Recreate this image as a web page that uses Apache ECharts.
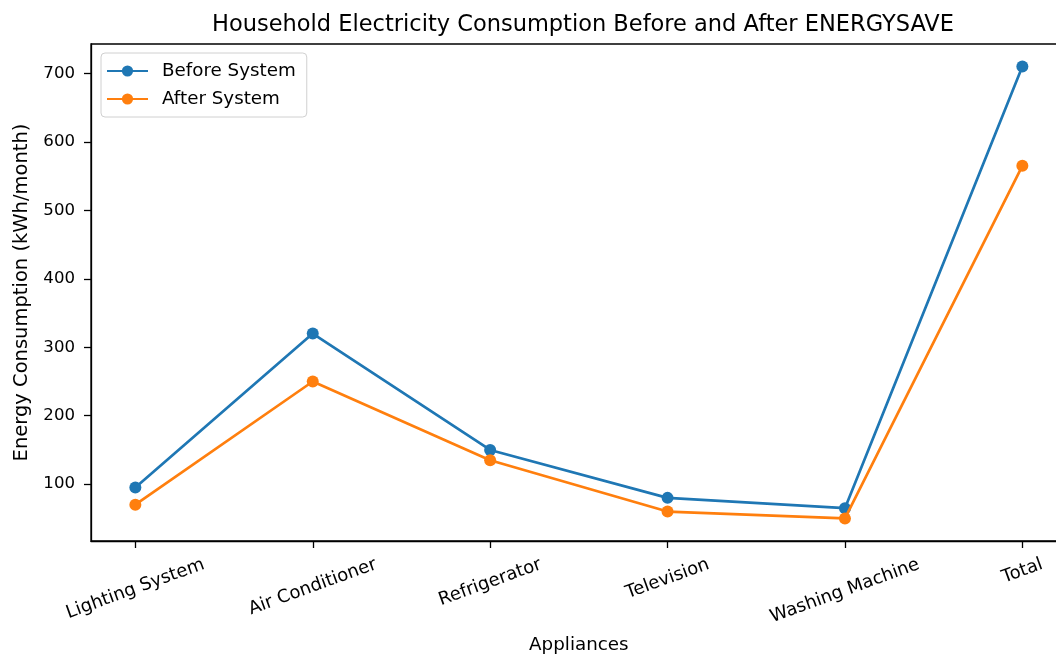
<!DOCTYPE html>
<html>
<head>
<meta charset="utf-8">
<title>Household Electricity Consumption</title>
<script src="https://cdn.jsdelivr.net/npm/echarts@6/dist/echarts.min.js"></script>
<style>
  html, body { margin: 0; padding: 0; background: #ffffff; }
  #chart { width: 1056px; height: 654px; }
</style>
</head>
<body>
<div id="chart"></div>
<script>
// Appliance categories and monthly consumption (kWh/month)
const appliances = ['Lighting System', 'Air Conditioner', 'Refrigerator', 'Television', 'Washing Machine', 'Total'];
const beforeSystem = [95, 320, 150, 80, 65, 710];
const afterSystem = [70, 250, 135, 60, 50, 565];
const yTicks = [100, 200, 300, 400, 500, 600, 700];

const FONT = 'DejaVu Sans';
const LABEL_SIZE = 18.3;
const XTICK_SIZE = 18;
const YTICK_SIZE = 16.6;
const BLUE = '#1f77b4';
const ORANGE = '#ff7f0e';

// Axis limits with a 5% margin around the data
const allVals = beforeSystem.concat(afterSystem);
const vMin = Math.min(...allVals), vMax = Math.max(...allVals);
const vPad = (vMax - vMin) * 0.05;
const xPad = (appliances.length - 1) * 0.05;

// Rotated tick labels hang below their tick: each label is padded so that
// its centre drops by half of the rise of the rotated text.
const ctx = document.createElement('canvas').getContext('2d');
ctx.font = XTICK_SIZE + 'px "' + FONT + '"';
const ROT = 20 * Math.PI / 180;
const rich = {};
appliances.forEach((name, i) => {
  const w = ctx.measureText(name).width;
  const d = 0.5 * w * Math.sin(ROT);
  rich['c' + i] = {
    fontFamily: FONT,
    fontSize: XTICK_SIZE,
    color: '#000',
    padding: [2 * d * Math.cos(ROT), 2 * d * Math.sin(ROT), 0, 0]
  };
});

const idx = appliances.map((_, i) => i);
const toPairs = arr => arr.map((v, i) => [i, v]);

const chart = echarts.init(document.getElementById('chart'), null, { renderer: 'canvas' });

chart.setOption({
  animation: false,
  backgroundColor: '#ffffff',
  textStyle: { fontFamily: FONT, color: '#000' },
  title: {
    text: 'Household Electricity Consumption Before and After ENERGYSAVE',
    left: 578,
    textAlign: 'center',
    top: 9,
    textStyle: { fontFamily: FONT, fontSize: 22.5, fontWeight: 'normal', color: '#000' }
  },
  legend: {
    orient: 'vertical',
    left: 101,
    top: 53,
    padding: [9, 11, 9, 5],
    itemWidth: 41,
    itemHeight: 14,
    itemGap: 10,
    backgroundColor: 'rgba(255,255,255,0.8)',
    borderColor: '#d0d0d0',
    borderWidth: 1,
    borderRadius: 4,
    textStyle: { fontFamily: FONT, fontSize: LABEL_SIZE, color: '#000', padding: [0, 0, 0, 9] },
    data: ['Before System', 'After System']
  },
  grid: {
    left: 91,
    right: -10.7,
    top: 44,
    bottom: 113,
    containLabel: false,
    outerBoundsMode: 'none',
    show: true,
    borderColor: '#000',
    borderWidth: 1.3,
    backgroundColor: 'transparent'
  },
  xAxis: {
    type: 'value',
    min: -xPad,
    max: appliances.length - 1 + xPad,
    name: 'Appliances',
    nameLocation: 'middle',
    nameGap: 95,
    nameTextStyle: { fontFamily: FONT, fontSize: LABEL_SIZE, color: '#000' },
    splitLine: { show: false },
    axisLine: { show: true, onZero: false, lineStyle: { color: '#000', width: 1.3 } },
    axisTick: { show: true, length: 7, customValues: idx, lineStyle: { color: '#000', width: 1.3 } },
    axisLabel: {
      customValues: idx,
      rotate: 20,
      align: 'center',
      verticalAlign: 'middle',
      margin: 23,
      fontFamily: FONT,
      fontSize: XTICK_SIZE,
      color: '#000',
      formatter: v => '{c' + v + '|' + appliances[v] + '}',
      rich: rich
    }
  },
  yAxis: {
    type: 'value',
    min: vMin - vPad,
    max: vMax + vPad,
    name: 'Energy Consumption (kWh/month)',
    nameLocation: 'middle',
    nameRotate: 90,
    nameGap: 56,
    nameTextStyle: { fontFamily: FONT, fontSize: 19.5, color: '#000' },
    splitLine: { show: false },
    axisLine: { show: true, onZero: false, lineStyle: { color: '#000', width: 1.3 } },
    axisTick: { show: true, length: 7, customValues: yTicks, lineStyle: { color: '#000', width: 1.3 } },
    axisLabel: {
      customValues: yTicks,
      margin: 16,
      fontFamily: FONT,
      fontSize: YTICK_SIZE,
      color: '#000'
    }
  },
  series: [
    {
      name: 'Before System',
      type: 'line',
      data: toPairs(beforeSystem),
      symbol: 'circle',
      symbolSize: 12,
      color: BLUE,
      lineStyle: { color: BLUE, width: 2.7 },
      itemStyle: { color: BLUE },
      z: 2
    },
    {
      name: 'After System',
      type: 'line',
      data: toPairs(afterSystem),
      symbol: 'circle',
      symbolSize: 12,
      color: ORANGE,
      lineStyle: { color: ORANGE, width: 2.7 },
      itemStyle: { color: ORANGE },
      z: 3
    }
  ]
});
</script>
</body>
</html>
